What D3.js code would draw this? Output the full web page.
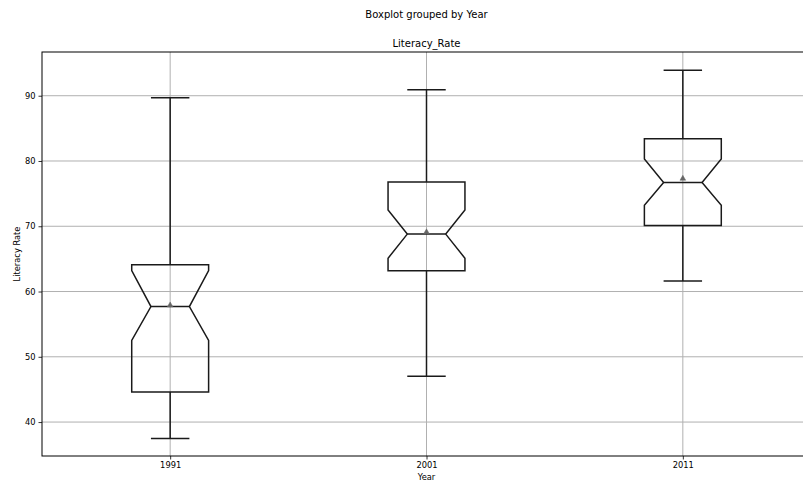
<!DOCTYPE html>
<html>
<head>
<meta charset="utf-8">
<script src="https://cdn.jsdelivr.net/npm/d3@7"></script>
<style>
  html, body { margin: 0; padding: 0; background: #fff; }
  svg { display: block; font-family: "DejaVu Sans", sans-serif; }
</style>
</head>
<body>
<svg id="chart" width="803" height="482"></svg>
<script>
// Literacy rate summary statistics per census year
const years = ["1991", "2001", "2011"];
const whiskerLow = [37.5, 47.0, 61.6];
const q1 = [44.6, 63.2, 70.1];
const median = [57.7, 68.8, 76.7];
const q3 = [64.1, 76.8, 83.4];
const whiskerHigh = [89.7, 90.9, 93.9];
const notchLow = [52.5, 65.1, 73.2];
const notchHigh = [63.2, 72.5, 80.3];
const means = [57.9, 69.1, 77.3];
const yTicks = [40, 50, 60, 70, 80, 90];

const svg = d3.select("#chart");
const plotLeft = 42, plotRight = 811, plotTop = 52, plotBottom = 456;

const x = d3.scaleLinear().domain([0.5, 3.5]).range([plotLeft, plotRight]);
const y = d3.scaleLinear().domain([34.8, 96.7]).range([plotBottom, plotTop]);

const gridColor = "#b0b0b0";
const lineColor = "#1a1a1a";

// grid
const grid = svg.append("g");
grid.selectAll("line.hg").data(yTicks).join("line")
  .attr("x1", plotLeft).attr("x2", plotRight)
  .attr("y1", d => y(d)).attr("y2", d => y(d))
  .attr("stroke", gridColor).attr("stroke-width", 1);
grid.selectAll("line.vg").data(years).join("line")
  .attr("x1", (d, i) => x(i + 1)).attr("x2", (d, i) => x(i + 1))
  .attr("y1", plotTop).attr("y2", plotBottom)
  .attr("stroke", gridColor).attr("stroke-width", 1);

// axes
const yAxis = d3.axisLeft(y).tickValues(yTicks).tickSize(3.5).tickPadding(3).tickFormat(d3.format("d"));
const xAxis = d3.axisBottom(x).tickValues([1, 2, 3]).tickSize(3.5).tickPadding(3).tickFormat((d) => years[d - 1]);

const gy = svg.append("g").attr("transform", `translate(${plotLeft},0)`).call(yAxis);
const gx = svg.append("g").attr("transform", `translate(0,${plotBottom})`).call(xAxis);
[gx, gy].forEach(g => {
  g.select(".domain").remove();
  g.selectAll(".tick line").attr("stroke", "#000").attr("stroke-width", 0.8);
  g.selectAll(".tick text").attr("fill", "#000").style("font-size", "8.3px")
    .style("font-family", "DejaVu Sans, sans-serif");
});

// spines
svg.append("rect")
  .attr("x", plotLeft).attr("y", plotTop)
  .attr("width", plotRight - plotLeft).attr("height", plotBottom - plotTop)
  .attr("fill", "none").attr("stroke", "#000").attr("stroke-width", 1);

// boxes
const boxHalf = x(1.15) - x(1);
const capHalf = x(1.075) - x(1);
const boxes = svg.append("g");
years.forEach((yr, i) => {
  const c = x(i + 1);
  const g = boxes.append("g");
  const pts = [
    [c - boxHalf, y(q1[i])],
    [c - boxHalf, y(notchLow[i])],
    [c - boxHalf / 2, y(median[i])],
    [c - boxHalf, y(notchHigh[i])],
    [c - boxHalf, y(q3[i])],
    [c + boxHalf, y(q3[i])],
    [c + boxHalf, y(notchHigh[i])],
    [c + boxHalf / 2, y(median[i])],
    [c + boxHalf, y(notchLow[i])],
    [c + boxHalf, y(q1[i])]
  ];
  g.append("path")
    .attr("d", d3.line()(pts) + "Z")
    .attr("fill", "none").attr("stroke", lineColor).attr("stroke-width", 1.5)
    .attr("stroke-linejoin", "miter");
  // whiskers
  g.append("line").attr("x1", c).attr("x2", c)
    .attr("y1", y(q1[i])).attr("y2", y(whiskerLow[i]))
    .attr("stroke", lineColor).attr("stroke-width", 1.5);
  g.append("line").attr("x1", c).attr("x2", c)
    .attr("y1", y(q3[i])).attr("y2", y(whiskerHigh[i]))
    .attr("stroke", lineColor).attr("stroke-width", 1.5);
  // caps
  [whiskerLow[i], whiskerHigh[i]].forEach(v => {
    g.append("line").attr("x1", c - capHalf).attr("x2", c + capHalf)
      .attr("y1", y(v)).attr("y2", y(v))
      .attr("stroke", lineColor).attr("stroke-width", 1.5);
  });
  // median
  g.append("line").attr("x1", c - boxHalf / 2).attr("x2", c + boxHalf / 2)
    .attr("y1", y(median[i])).attr("y2", y(median[i]))
    .attr("stroke", lineColor).attr("stroke-width", 1.5);
  // mean marker
  g.append("path")
    .attr("d", d3.symbol().type(d3.symbolTriangle).size(14)())
    .attr("transform", `translate(${c},${y(means[i])})`)
    .attr("fill", "#666").attr("stroke", "#666").attr("stroke-width", 0.5);
});

// titles and labels
const midX = (plotLeft + plotRight) / 2;
svg.append("text").attr("x", midX).attr("y", 17.5)
  .attr("text-anchor", "middle").style("font-size", "10px")
  .text("Boxplot grouped by Year");
svg.append("text").attr("x", midX).attr("y", 46.5)
  .attr("text-anchor", "middle").style("font-size", "10px")
  .text("Literacy_Rate");
svg.append("text").attr("x", midX).attr("y", 480)
  .attr("text-anchor", "middle").style("font-size", "8.3px")
  .text("Year");
svg.append("text")
  .attr("transform", `translate(19.5,${(plotTop + plotBottom) / 2}) rotate(-90)`)
  .attr("text-anchor", "middle").style("font-size", "8.3px")
  .text("Literacy Rate");
</script>
</body>
</html>
